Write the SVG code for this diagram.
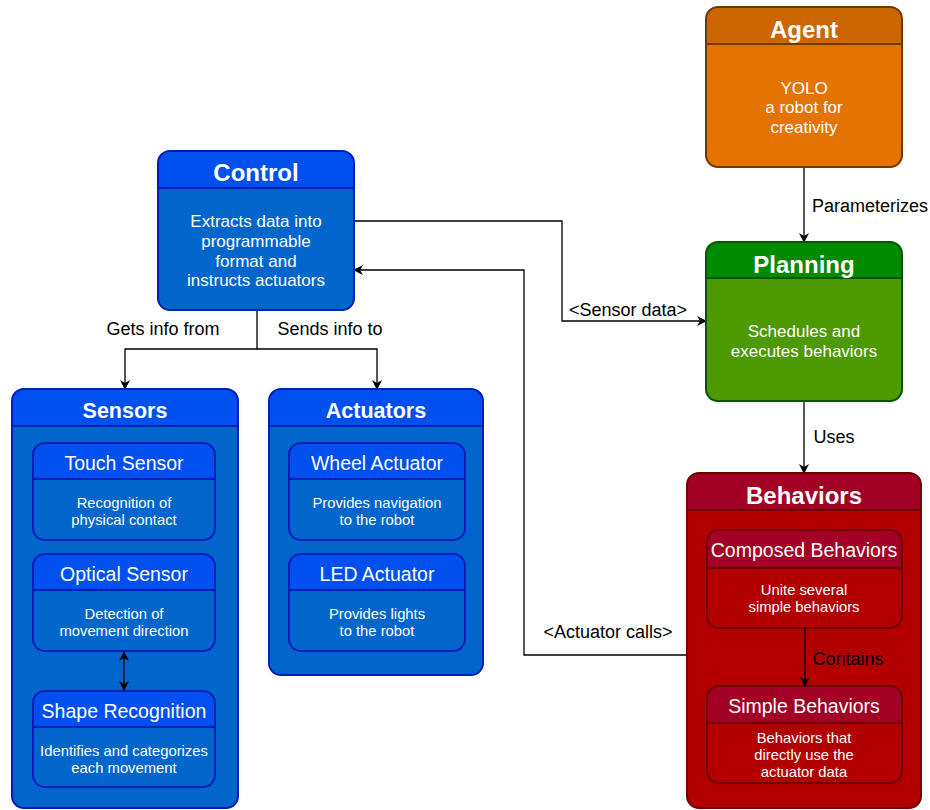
<svg xmlns="http://www.w3.org/2000/svg" width="930" height="810" viewBox="0 0 930 810">
<style>
text{font-family:"Liberation Sans",Arial,sans-serif;text-anchor:middle;fill:#fff}
.t1{font-size:24px;font-weight:bold}
.t2{font-size:21.5px;font-weight:bold}
.t3{font-size:19.5px}
.b1{font-size:17px}
.b2{font-size:14.8px}
.lbl{font-size:18px;fill:#000}
.c{fill:none;stroke:#000;stroke-width:1.3}
</style>
<defs>
<marker id="ah" viewBox="0 0 10 10" refX="9" refY="5" markerWidth="10" markerHeight="10" markerUnits="userSpaceOnUse" orient="auto-start-reverse">
<path d="M0,0 L10,5 L0,10 L3,5 Z" fill="#000"/>
</marker>
</defs>
<g id="connectors">
<path class="c" d="M804,167 V242" marker-end="url(#ah)"/>
<text class="lbl" x="870" y="212">Parameterizes</text>
<path class="c" d="M804,401 V473" marker-end="url(#ah)"/>
<text class="lbl" x="834" y="443">Uses</text>
<path class="c" d="M354,221 H562 V321 H706" marker-end="url(#ah)"/>
<text class="lbl" x="628" y="316">&lt;Sensor data&gt;</text>
<path class="c" d="M687,655 H524 V270 H354" marker-end="url(#ah)"/>
<text class="lbl" x="608" y="638">&lt;Actuator calls&gt;</text>
<path class="c" d="M257,310 V349 H125 V389" marker-end="url(#ah)"/>
<path class="c" d="M257,349 H377 V389" marker-end="url(#ah)"/>
<text class="lbl" x="163" y="335">Gets info from</text>
<text class="lbl" x="330" y="335">Sends info to</text>
</g>
<g id="agent">
<rect x="706" y="7" width="196" height="160" rx="12" fill="#E57300"/>
<path d="M706,44 V19 Q706,7 718,7 H890 Q902,7 902,19 V44 Z" fill="#CC6600"/>
<line x1="706" y1="44" x2="902" y2="44" stroke="#6D3A00" stroke-width="2"/>
<rect x="706" y="7" width="196" height="160" rx="12" fill="none" stroke="#6D3A00" stroke-width="2"/>
<text class="t1" x="804" y="37.5">Agent</text>
<text class="b1" x="804" y="94">YOLO</text>
<text class="b1" x="804" y="113">a robot for</text>
<text class="b1" x="804" y="133">creativity</text>
</g>
<g id="control">
<rect x="158" y="151" width="196" height="159" rx="12" fill="#0066CC"/>
<path d="M158,188 V163 Q158,151 170,151 H342 Q354,151 354,163 V188 Z" fill="#0050EF"/>
<line x1="158" y1="188" x2="354" y2="188" stroke="#001DBC" stroke-width="2"/>
<rect x="158" y="151" width="196" height="159" rx="12" fill="none" stroke="#001DBC" stroke-width="2"/>
<text class="t1" x="256" y="180.5">Control</text>
<text class="b1" x="256" y="227">Extracts data into</text>
<text class="b1" x="256" y="247">programmable</text>
<text class="b1" x="256" y="267">format and</text>
<text class="b1" x="256" y="286">instructs actuators</text>
</g>
<g id="planning">
<rect x="706" y="242" width="196" height="159" rx="12" fill="#4D9900"/>
<path d="M706,278 V254 Q706,242 718,242 H890 Q902,242 902,254 V278 Z" fill="#008A00"/>
<line x1="706" y1="278" x2="902" y2="278" stroke="#005700" stroke-width="2"/>
<rect x="706" y="242" width="196" height="159" rx="12" fill="none" stroke="#005700" stroke-width="2"/>
<text class="t1" x="804" y="272.5">Planning</text>
<text class="b1" x="804" y="337">Schedules and</text>
<text class="b1" x="804" y="357">executes behaviors</text>
</g>
<g id="behaviors">
<rect x="687" y="473" width="234" height="335" rx="12" fill="#B20000"/>
<path d="M687,510 V485 Q687,473 699,473 H909 Q921,473 921,485 V510 Z" fill="#A20025"/>
<line x1="687" y1="510" x2="921" y2="510" stroke="#6F0000" stroke-width="2"/>
<rect x="687" y="473" width="234" height="335" rx="12" fill="none" stroke="#6F0000" stroke-width="2"/>
<text class="t1" x="804" y="503.5">Behaviors</text>
</g>
<g id="composed-behaviors">
<rect x="707" y="530" width="195" height="98" rx="12" fill="#B20000"/>
<path d="M707,568 V542 Q707,530 719,530 H890 Q902,530 902,542 V568 Z" fill="#A20025"/>
<line x1="707" y1="568" x2="902" y2="568" stroke="#6F0000" stroke-width="2"/>
<rect x="707" y="530" width="195" height="98" rx="12" fill="none" stroke="#6F0000" stroke-width="2"/>
<text class="t3" x="804" y="557">Composed Behaviors</text>
<text class="b2" x="804" y="595">Unite several</text>
<text class="b2" x="804" y="612">simple behaviors</text>
</g>
<g id="simple-behaviors">
<rect x="707" y="686" width="195" height="97" rx="12" fill="#B20000"/>
<path d="M707,723 V698 Q707,686 719,686 H890 Q902,686 902,698 V723 Z" fill="#A20025"/>
<line x1="707" y1="723" x2="902" y2="723" stroke="#6F0000" stroke-width="2"/>
<rect x="707" y="686" width="195" height="97" rx="12" fill="none" stroke="#6F0000" stroke-width="2"/>
<text class="t3" x="804" y="713">Simple Behaviors</text>
<text class="b2" x="804" y="743">Behaviors that</text>
<text class="b2" x="804" y="760">directly use the</text>
<text class="b2" x="804" y="777">actuator data</text>
</g>
<g id="contains-connector">
<path class="c" d="M805,628 V686" marker-end="url(#ah)"/>
<text class="lbl" x="848" y="665">Contains</text>
</g>
<g id="sensors">
<rect x="12" y="389" width="226" height="419" rx="12" fill="#0066CC"/>
<path d="M12,426 V401 Q12,389 24,389 H226 Q238,389 238,401 V426 Z" fill="#0050EF"/>
<line x1="12" y1="426" x2="238" y2="426" stroke="#001DBC" stroke-width="2"/>
<rect x="12" y="389" width="226" height="419" rx="12" fill="none" stroke="#001DBC" stroke-width="2"/>
<text class="t2" x="125" y="418">Sensors</text>
</g>
<g id="touch-sensor">
<rect x="33" y="443" width="182" height="97" rx="12" fill="#0066CC"/>
<path d="M33,479 V455 Q33,443 45,443 H203 Q215,443 215,455 V479 Z" fill="#0050EF"/>
<line x1="33" y1="479" x2="215" y2="479" stroke="#001DBC" stroke-width="2"/>
<rect x="33" y="443" width="182" height="97" rx="12" fill="none" stroke="#001DBC" stroke-width="2"/>
<text class="t3" x="124" y="470">Touch Sensor</text>
<text class="b2" x="124" y="508">Recognition of</text>
<text class="b2" x="124" y="525">physical contact</text>
</g>
<g id="optical-sensor">
<rect x="33" y="554" width="182" height="97" rx="12" fill="#0066CC"/>
<path d="M33,590 V566 Q33,554 45,554 H203 Q215,554 215,566 V590 Z" fill="#0050EF"/>
<line x1="33" y1="590" x2="215" y2="590" stroke="#001DBC" stroke-width="2"/>
<rect x="33" y="554" width="182" height="97" rx="12" fill="none" stroke="#001DBC" stroke-width="2"/>
<text class="t3" x="124" y="581">Optical Sensor</text>
<text class="b2" x="124" y="619">Detection of</text>
<text class="b2" x="124" y="636">movement direction</text>
</g>
<g id="shape-recognition">
<rect x="33" y="691" width="182" height="96" rx="12" fill="#0066CC"/>
<path d="M33,727 V703 Q33,691 45,691 H203 Q215,691 215,703 V727 Z" fill="#0050EF"/>
<line x1="33" y1="727" x2="215" y2="727" stroke="#001DBC" stroke-width="2"/>
<rect x="33" y="691" width="182" height="96" rx="12" fill="none" stroke="#001DBC" stroke-width="2"/>
<text class="t3" x="124" y="718">Shape Recognition</text>
<text class="b2" x="124" y="756">Identifies and categorizes</text>
<text class="b2" x="124" y="773">each movement</text>
</g>
<g id="optical-shape-connector">
<path class="c" d="M124,652 V690" marker-start="url(#ah)" marker-end="url(#ah)"/>
</g>
<g id="actuators">
<rect x="269" y="389" width="214" height="286" rx="12" fill="#0066CC"/>
<path d="M269,426 V401 Q269,389 281,389 H471 Q483,389 483,401 V426 Z" fill="#0050EF"/>
<line x1="269" y1="426" x2="483" y2="426" stroke="#001DBC" stroke-width="2"/>
<rect x="269" y="389" width="214" height="286" rx="12" fill="none" stroke="#001DBC" stroke-width="2"/>
<text class="t2" x="376" y="418">Actuators</text>
</g>
<g id="wheel-actuator">
<rect x="289" y="443" width="176" height="97" rx="12" fill="#0066CC"/>
<path d="M289,479 V455 Q289,443 301,443 H453 Q465,443 465,455 V479 Z" fill="#0050EF"/>
<line x1="289" y1="479" x2="465" y2="479" stroke="#001DBC" stroke-width="2"/>
<rect x="289" y="443" width="176" height="97" rx="12" fill="none" stroke="#001DBC" stroke-width="2"/>
<text class="t3" x="377" y="470">Wheel Actuator</text>
<text class="b2" x="377" y="508">Provides navigation</text>
<text class="b2" x="377" y="525">to the robot</text>
</g>
<g id="led-actuator">
<rect x="289" y="554" width="176" height="97" rx="12" fill="#0066CC"/>
<path d="M289,590 V566 Q289,554 301,554 H453 Q465,554 465,566 V590 Z" fill="#0050EF"/>
<line x1="289" y1="590" x2="465" y2="590" stroke="#001DBC" stroke-width="2"/>
<rect x="289" y="554" width="176" height="97" rx="12" fill="none" stroke="#001DBC" stroke-width="2"/>
<text class="t3" x="377" y="581">LED Actuator</text>
<text class="b2" x="377" y="619">Provides lights</text>
<text class="b2" x="377" y="636">to the robot</text>
</g>
</svg>
